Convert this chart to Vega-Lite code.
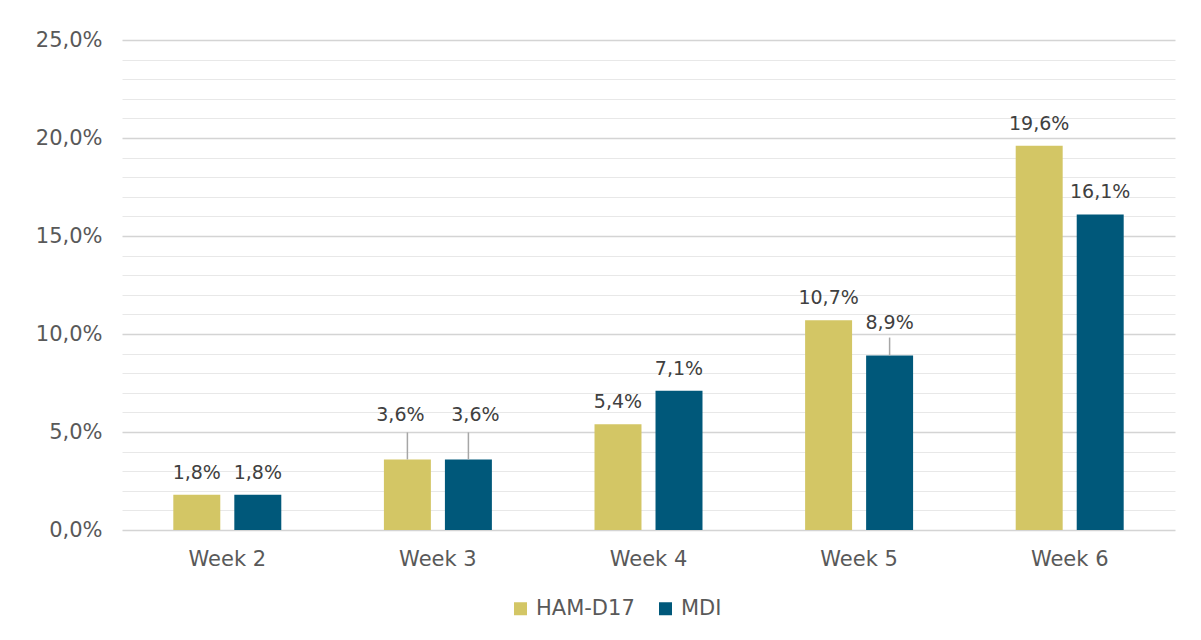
{
  "$schema": "https://vega.github.io/schema/vega-lite/v6.json",
  "width": 1053,
  "height": 490,
  "autosize": {"type": "none"},
  "padding": {"left": 122, "top": 40, "right": 26, "bottom": 110},
  "background": "white",
  "data": {
    "values": [
      {"week": "Week 2", "series": "HAM-D17", "value": 0.018},
      {"week": "Week 2", "series": "MDI", "value": 0.018},
      {"week": "Week 3", "series": "HAM-D17", "value": 0.036},
      {"week": "Week 3", "series": "MDI", "value": 0.036},
      {"week": "Week 4", "series": "HAM-D17", "value": 0.054},
      {"week": "Week 4", "series": "MDI", "value": 0.071},
      {"week": "Week 5", "series": "HAM-D17", "value": 0.107},
      {"week": "Week 5", "series": "MDI", "value": 0.089},
      {"week": "Week 6", "series": "HAM-D17", "value": 0.196},
      {"week": "Week 6", "series": "MDI", "value": 0.161}
    ]
  },
  "transform": [
    {"calculate": "replace(format(datum.value, '.1%'), '.', ',')", "as": "label"}
  ],
  "encoding": {
    "x": {
      "field": "week", "type": "nominal", "title": null,
      "scale": {"paddingInner": 0, "paddingOuter": 0},
      "axis": {
        "labelAngle": 0, "domain": false, "ticks": false,
        "labelFont": "DejaVu Sans", "labelFontSize": 21, "labelColor": "#595959",
        "labelPadding": 18
      }
    },
    "xOffset": {
      "field": "series", "type": "nominal",
      "scale": {"domain": ["HAM-D17", "MDI"], "paddingInner": 0.23, "paddingOuter": 0.841}
    }
  },
  "layer": [
    {
      "mark": {"type": "bar"},
      "encoding": {
        "y": {
          "field": "value", "type": "quantitative", "title": null,
          "scale": {"domain": [0, 0.25], "nice": false},
          "axis": {
            "values": [0,0.01,0.02,0.03,0.04,0.05,0.06,0.07,0.08,0.09,0.1,0.11,0.12,0.13,0.14,0.15,0.16,0.17,0.18,0.19,0.2,0.21,0.22,0.23,0.24,0.25],
            "tickCount": 30,
            "labelExpr": "round(datum.value*100) % 5 === 0 ? replace(format(datum.value, '.1%'), '.', ',') : ''",
            "labelOverlap": false,
            "domain": false, "ticks": false,
            "labelFont": "DejaVu Sans", "labelFontSize": 21, "labelColor": "#595959",
            "labelPadding": 20,
            "gridColor": {"condition": {"test": "round(datum.value*100) % 5 === 0", "value": "#d4d4d4"}, "value": "#e8e8e8"},
            "gridWidth": {"condition": {"test": "round(datum.value*100) % 5 === 0", "value": 1.5}, "value": 1}
          }
        },
        "color": {
          "field": "series", "type": "nominal", "title": null,
          "scale": {"domain": ["HAM-D17", "MDI"], "range": ["#D3C665", "#00587A"]},
          "legend": {
            "orient": "none", "legendX": 388, "legendY": 558, "direction": "horizontal",
            "symbolType": "square", "symbolSize": 169, "symbolStrokeWidth": 0,
            "labelFont": "DejaVu Sans", "labelFontSize": 21, "labelColor": "#595959",
            "labelOffset": 5, "columnPadding": 20, "padding": 0
          }
        }
      }
    },
    {
      "transform": [{"filter": "datum.week !== 'Week 3' && !(datum.week === 'Week 5' && datum.series === 'MDI')"}],
      "mark": {"type": "text", "baseline": "middle", "dy": -22, "font": "DejaVu Sans", "fontSize": 19, "color": "#404040"},
      "encoding": {
        "y": {"field": "value", "type": "quantitative"},
        "text": {"field": "label"}
      }
    },
    {
      "transform": [{"filter": "datum.week === 'Week 3' && datum.series === 'HAM-D17'"}],
      "mark": {"type": "text", "baseline": "middle", "dy": -44, "dx": -7, "font": "DejaVu Sans", "fontSize": 19, "color": "#404040"},
      "encoding": {
        "y": {"field": "value", "type": "quantitative"},
        "text": {"field": "label"}
      }
    },
    {
      "transform": [{"filter": "datum.week === 'Week 3' && datum.series === 'MDI'"}],
      "mark": {"type": "text", "baseline": "middle", "dy": -44, "dx": 7, "font": "DejaVu Sans", "fontSize": 19, "color": "#404040"},
      "encoding": {
        "y": {"field": "value", "type": "quantitative"},
        "text": {"field": "label"}
      }
    },
    {
      "transform": [{"filter": "datum.week === 'Week 5' && datum.series === 'MDI'"}],
      "mark": {"type": "text", "baseline": "middle", "dy": -33, "font": "DejaVu Sans", "fontSize": 19, "color": "#404040"},
      "encoding": {
        "y": {"field": "value", "type": "quantitative"},
        "text": {"field": "label"}
      }
    },
    {
      "transform": [{"filter": "datum.week === 'Week 3'"}],
      "mark": {"type": "rule", "color": "#a6a6a6", "strokeWidth": 1.5, "y2Offset": -27},
      "encoding": {
        "y": {"field": "value", "type": "quantitative"},
        "y2": {"field": "value"}
      }
    },
    {
      "transform": [{"filter": "datum.week === 'Week 5' && datum.series === 'MDI'"}],
      "mark": {"type": "rule", "color": "#a6a6a6", "strokeWidth": 1.5, "y2Offset": -18},
      "encoding": {
        "y": {"field": "value", "type": "quantitative"},
        "y2": {"field": "value"}
      }
    }
  ],
  "config": {
    "view": {"stroke": null}
  }
}
